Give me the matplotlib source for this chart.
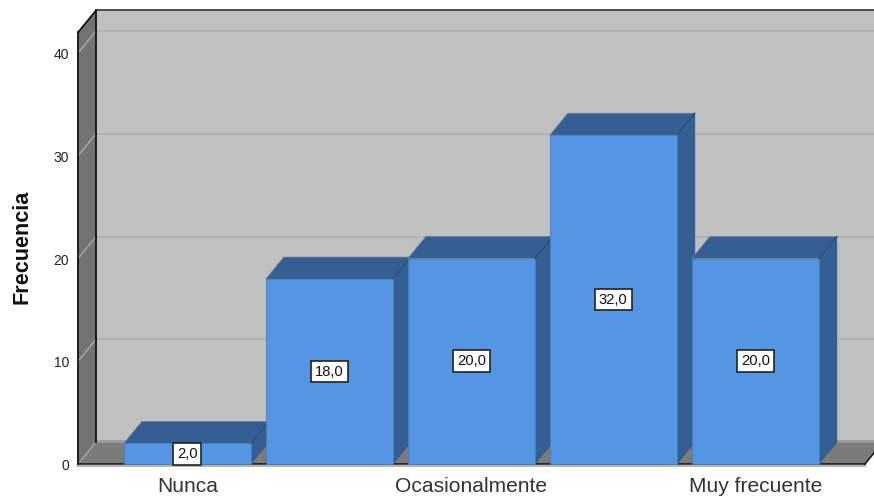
import matplotlib
matplotlib.use("Agg")
import matplotlib.pyplot as plt
from matplotlib.patches import Polygon

plt.rcParams['font.family'] = ['Liberation Sans', 'DejaVu Sans']

# Chart data
categories = ["Nunca", "Casi nunca", "Ocasionalmente", "Frecuente", "Muy frecuente"]
shown_labels = ["Nunca", "", "Ocasionalmente", "", "Muy frecuente"]
frequencies = [2.0, 18.0, 20.0, 32.0, 20.0]
value_ticks = [0, 10, 20, 30, 40]
axis_title = "Frecuencia"

# Colours
FRONT = "#5495E4"
SHADE = "#355F92"
WALL = "#C0C0C0"
SIDE_WALL = "#737373"
FLOOR = "#7B7B7B"
GRID = "#B0B0B0"
SIDE_GRID = "#A6A6A6"

W, H = 874, 497
fig = plt.figure(figsize=(W / 100, H / 100), dpi=100, facecolor="white")
ax = fig.add_axes([0, 0, 1, 1])

# Linear scales: one category step is 142 px, ten frequency units are 102.75 px
X_STEP, Y_STEP = 142.0, 10.275
X0_PX, Y0_PX = 187.3, 464.0
ax.set_xlim(-X0_PX / X_STEP, (W - X0_PX) / X_STEP)
ax.set_ylim(-(H - Y0_PX) / Y_STEP, Y0_PX / Y_STEP)
ax.axis("off")

# Extruded depth of the pseudo-3D box, in data units
DX, DY = 18 / X_STEP, 22 / Y_STEP
BAR_W = 127 / X_STEP
LEFT = (78 - X0_PX) / X_STEP
RIGHT = (865 - X0_PX) / X_STEP
TOP = 42.0


def poly(points, color, z, edge="none", lw=0):
    ax.add_patch(Polygon(points, closed=True, facecolor=color, edgecolor=edge,
                         linewidth=lw, zorder=z, clip_on=True))


# Back wall, left wall and floor
poly([(LEFT + DX, DY), (RIGHT + DX, DY), (RIGHT + DX, TOP + DY), (LEFT + DX, TOP + DY)], WALL, 1)
poly([(LEFT, 0), (LEFT + DX, DY), (LEFT + DX, TOP + DY), (LEFT, TOP)], SIDE_WALL, 1)
poly([(LEFT, 0), (RIGHT, 0), (RIGHT + DX, DY), (LEFT + DX, DY)], FLOOR, 1)
ax.plot([LEFT + DX, RIGHT + DX], [DY + 0.1, DY + 0.1], color="#9A9A9A", lw=2, zorder=1.2,
        solid_capstyle="butt")

# Gridlines on the back wall and across the left wall
for v in value_ticks[1:]:
    ax.plot([LEFT + DX, RIGHT + DX], [v + DY, v + DY], color=GRID, lw=1.3, zorder=1.5,
            solid_capstyle="butt")
    ax.plot([LEFT, LEFT + DX], [v, v + DY], color=SIDE_GRID, lw=1.1, zorder=1.5)
ax.plot([LEFT, LEFT + DX], [0, DY], color=SIDE_GRID, lw=0.9, zorder=1.5)

# Box outline
OUTLINE = dict(color="#111111", lw=1.3, zorder=2, solid_capstyle="projecting")
ax.plot([LEFT, LEFT], [0, TOP], **OUTLINE)
ax.plot([LEFT + DX, LEFT + DX], [DY, TOP + DY], **OUTLINE)
ax.plot([LEFT, LEFT + DX], [TOP, TOP + DY], **OUTLINE)
ax.plot([LEFT + DX, RIGHT + DX], [TOP + DY, TOP + DY], color="#333333", lw=1.2, zorder=2)
ax.plot([LEFT, RIGHT], [-0.17, -0.17], color="#B5B5B5", lw=1.5, zorder=1.8)
ax.plot([LEFT, RIGHT], [0, 0], color="#111111", lw=1.1, zorder=2)
ax.plot([RIGHT, RIGHT + DX], [0, DY], color="#111111", lw=1.1, zorder=2)

# Bars: extruded top and side faces first, the front face over them
for i, v in enumerate(frequencies):
    z = 3 + i
    l, r = i - BAR_W / 2, i + BAR_W / 2
    poly([(l, v), (r, v), (r + DX, v + DY), (l + DX, v + DY)], SHADE, z, edge="#6E8199", lw=0.5)
    poly([(r, 0), (r + DX, DY), (r + DX, v + DY), (r, v)], SHADE, z, edge="#2F5280", lw=0.5)
    ax.plot([r, r + DX], [v, v + DY], color="#2A4E7B", lw=0.9, zorder=z + 0.1)
    ax.bar(i, v, width=BAR_W, color=FRONT, edgecolor="#4A7DBB", linewidth=0.6, zorder=z + 0.2)

# Value labels at bar mid-height
for i, v in enumerate(frequencies):
    ax.text(i, v / 2, f"{v:.1f}".replace(".", ","), ha="center", va="center", fontsize=10.6,
            color="#111111", zorder=10,
            bbox=dict(boxstyle="square,pad=0.26", facecolor="white", edgecolor="#222222", linewidth=1.2))

# Value axis tick labels sit slightly below their gridline ends
for v in value_ticks:
    ax.text(LEFT - 9 / X_STEP, v - 0.2, str(v), ha="right", va="center", fontsize=10, color="#222222", zorder=10)

# Category labels: crowded ones are skipped
for i, lab in enumerate(shown_labels):
    if lab:
        ax.text(i, -2.15, lab, ha="center", va="center", fontsize=15.1, color="#333333", zorder=10)

ax.text((22 - X0_PX) / X_STEP, (Y0_PX - 247) / Y_STEP, axis_title, rotation=90, ha="center",
        va="center", fontsize=15.6, fontweight="bold", color="#111111", zorder=10)

fig.savefig("out.png", dpi=100, facecolor="white")
